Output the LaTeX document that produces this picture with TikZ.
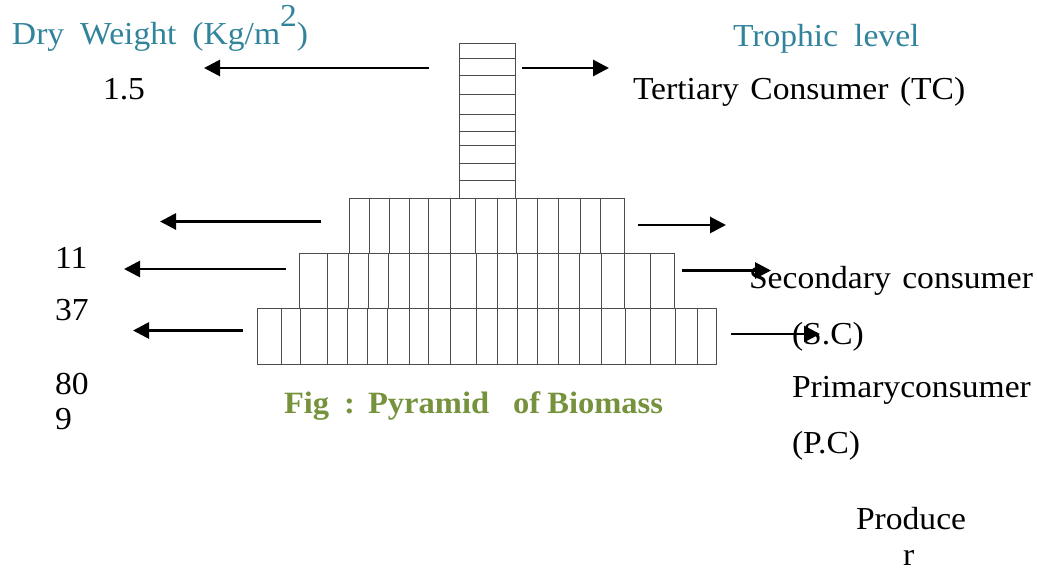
\documentclass[tikz,border=0pt]{standalone}
\usepackage{fontspec}
\setmainfont{Liberation Serif}[FakeStretch=1.05]
\usetikzlibrary{arrows.meta}
\definecolor{tealtxt}{RGB}{49,132,155}
\definecolor{figgreen}{RGB}{118,146,60}
\newcommand{\widesp}{\spaceskip=0.36em plus 0.1em\relax}
\newcommand{\widersp}{\spaceskip=0.5em plus 0.1em\relax}
\begin{document}
\begin{tikzpicture}[x=1pt,y=-1pt,
  lbl/.style={anchor=base west,inner sep=0pt,outer sep=0pt,
    font=\fontsize{32}{38}\selectfont,execute at begin node=\widesp},
  head/.style={lbl,text=tealtxt,execute at begin node=\widersp},
  figcap/.style={lbl,text=figgreen,font=\fontsize{31}{36}\selectfont\bfseries},
  grid/.style={draw=black!70,line width=1pt},
  arr/.style={line width=2.8pt,-{Triangle[length=16pt,width=16pt]}}]
\useasboundingbox (0,0) rectangle (1037,570);
% ---- pyramid ----
\draw[grid] (459,43) rectangle (515,198);
\foreach \y in {58,75,94,114,131,145,163,180}
  \draw[grid] (459,\y) -- (515,\y);
\draw[grid] (349,198) rectangle (624,253);
\foreach \x in {369,389,409,428,450,475,497,516,537,558,580,600}
  \draw[grid] (\x,198) -- (\x,253);
\draw[grid] (299,253) rectangle (674,308);
\foreach \x in {327,348,368,388,409,428,450,476,497,517,537,558,579,601,624,650}
  \draw[grid] (\x,253) -- (\x,308);
\draw[grid] (257,308) rectangle (716,364);
\foreach \x in {281,300,327,347,367,387,409,428,450,476,497,517,537,558,579,601,625,650,675,697}
  \draw[grid] (\x,308) -- (\x,364);
% ---- texts ----
\node[head] (dw) at (12,45) {Dry Weight (Kg/m\raisebox{19pt}{2})};
\node[head] (tl) at (733,46) {Trophic level};
\node[lbl] (v1) at (103,99) {1.5};
\node[lbl] (tc) at (633,99) {Tertiary Consumer (TC)};
\node[lbl] (v2) at (55,268) {11};
\node[lbl] (v3) at (55,320) {37};
\node[lbl] (v4) at (55,394) {80};
\node[lbl] (v5) at (55,429) {9};
\node[lbl] (sc) at (749,288) {Secondary consumer};
\node[lbl] (sc2) at (792,344) {(S.C)};
\node[lbl] (pc) at (792,397) {Primaryconsumer};
\node[lbl] (pc2) at (792,453) {(P.C)};
\node[lbl] (pr) at (856,529) {Produce};
\node[lbl] (pr2) at (903,565) {r};
\node[figcap] (fig) at (284,413) {Fig\hspace{15pt}:\hspace{13pt}Pyramid\hspace{24pt}of\hspace{7pt}Biomass};
% ---- arrows ----
\coordinate (a1s) at (429,68);   \coordinate (a1e) at (204,68);
\coordinate (b1s) at (522,68);   \coordinate (b1e) at (609,68);
\coordinate (a2s) at (321,221.5);\coordinate (a2e) at (160,221.5);
\coordinate (b2s) at (638,225);  \coordinate (b2e) at (726,225);
\coordinate (a3s) at (285.5,269);\coordinate (a3e) at (124,269);
\coordinate (b3s) at (682,270.5);\coordinate (b3e) at (771,270.5);
\coordinate (a4s) at (243,330.5);\coordinate (a4e) at (133,330.5);
\coordinate (b4s) at (731,334);  \coordinate (b4e) at (820,334);
\foreach \p in {a1,b1,a2,b2,a3,b3,a4,b4}
  \draw[arr] (\p s) -- (\p e);
\end{tikzpicture}
\end{document}
